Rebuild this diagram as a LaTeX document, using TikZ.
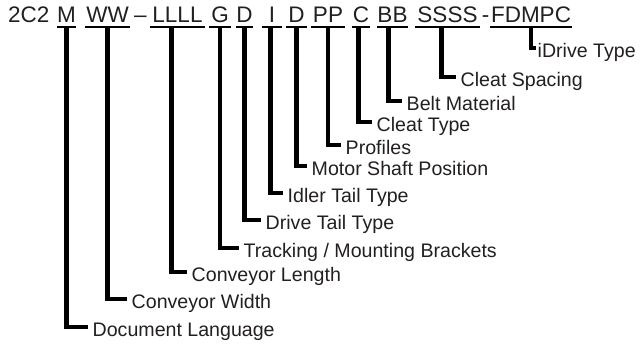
\documentclass[tikz,border=0pt]{standalone}
\usepackage{fontspec}
\setmainfont{Liberation Sans}
\definecolor{txtgray}{HTML}{231F20}
\begin{document}
\begin{tikzpicture}[x=1pt,y=-1pt,
		code/.style={anchor=base,inner sep=0pt,text depth=5pt,text=txtgray,font=\fontsize{22.5}{25}\selectfont},
		lbl/.style={anchor=west,inner sep=0pt,text height=18pt,text depth=0pt,text=txtgray,font=\fontsize{19.6}{22}\selectfont},
		uline/.style={line width=1.7pt},
		stem/.style={line width=4.4pt,line join=miter}]
		\useasboundingbox (0,0) rectangle (640,343);
		% part number
		\node[code,anchor=base west] (head) at (8,22) {2C2};
		\node[code,minimum width=17pt] (lang-c) at (66.5,22) {M};
		\node[code,minimum width=45pt] (width-c) at (107.5,22) {WW};
		\node[code] (dash) at (140.5,22) {--};
		\node[code,minimum width=55pt] (len-c) at (177.5,22) {LLLL};
		\node[code,minimum width=22pt] (track-c) at (220,22) {G};
		\node[code,minimum width=17pt] (drive-c) at (244.5,22) {D};
		\node[code,minimum width=20pt] (idler-c) at (272,22) {I};
		\node[code,minimum width=21pt] (motor-c) at (296.5,22) {D};
		\node[code,minimum width=34pt] (prof-c) at (328,22) {PP};
		\node[code,minimum width=18pt] (ctype-c) at (361,22) {C};
		\node[code,minimum width=31pt] (belt-c) at (392.5,22) {BB};
		\node[code,minimum width=65pt] (space-c) at (447.5,22) {SSSS};
		\node[code] (hyph) at (485.5,22) {-};
		\node[code,minimum width=82pt] (idrive-c) at (531,22) {FDMPC};
		\foreach \s in {lang-c,width-c,len-c,track-c,drive-c,idler-c,motor-c,prof-c,ctype-c,belt-c,space-c,idrive-c}
			\draw[uline] (\s.south west) -- (\s.south east);
		% descriptions
		\node[lbl] (idrive) at (537.5,48) {iDrive Type};
		\node[lbl] (space) at (460.5,77) {Cleat Spacing};
		\node[lbl] (belt) at (406.5,101) {Belt Material};
		\node[lbl] (ctype) at (376.5,122) {Cleat Type};
		\node[lbl] (prof) at (345.5,145) {Profiles};
		\node[lbl] (motor) at (311.5,166) {Motor Shaft Position};
		\node[lbl] (idler) at (287.5,193) {Idler Tail Type};
		\node[lbl] (drive) at (265.5,220) {Drive Tail Type};
		\node[lbl] (track) at (243.5,248) {Tracking / Mounting Brackets};
		\node[lbl] (len) at (191.5,272) {Conveyor Length};
		\node[lbl] (width) at (131.5,299) {Conveyor Width};
		\node[lbl] (lang) at (92.5,327) {Document Language};
		% leaders
		\draw[stem] (idrive-c.south) |- ([xshift=-1.5pt]idrive.west);
		\draw[stem] ([xshift=-6pt]space-c.south) |- ([xshift=-5pt]space.west);
		\draw[stem] ([xshift=-4pt]belt-c.south) |- ([xshift=-5pt]belt.west);
		\draw[stem] ([xshift=-2.5pt]ctype-c.south) |- ([xshift=-5pt]ctype.west);
		\draw[stem] (prof-c.south) |- ([xshift=-5pt]prof.west);
		\draw[stem] (motor-c.south) |- ([xshift=-5pt]motor.west);
		\draw[stem] ([xshift=-1.5pt]idler-c.south) |- ([xshift=-5pt]idler.west);
		\draw[stem] (drive-c.south) |- ([xshift=-5pt]drive.west);
		\draw[stem] (track-c.south) |- ([xshift=-5pt]track.west);
		\draw[stem] ([xshift=-6pt]len-c.south) |- ([xshift=-5pt]len.west);
		\draw[stem] (width-c.south) |- ([xshift=-5pt]width.west);
		\draw[stem] (lang-c.south) |- ([xshift=-5pt]lang.west);
\end{tikzpicture}
\end{document}
